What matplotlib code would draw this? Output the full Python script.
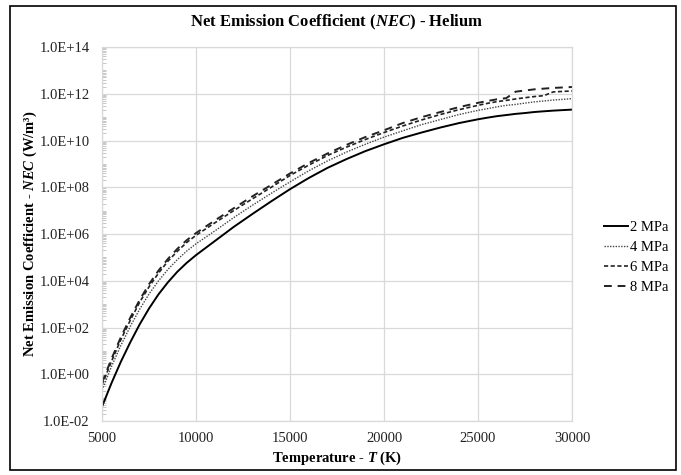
import matplotlib
matplotlib.use('Agg')
import matplotlib.pyplot as plt
from matplotlib.ticker import FuncFormatter, LogLocator, NullFormatter
from matplotlib.patches import Rectangle

plt.rcParams['font.family'] = 'Liberation Serif'
plt.rcParams['mathtext.fontset'] = 'custom'
plt.rcParams['mathtext.it'] = 'Liberation Serif:italic:bold'
plt.rcParams['mathtext.rm'] = 'Liberation Serif:bold'
plt.rcParams['mathtext.bf'] = 'Liberation Serif:bold'

# Temperature (K)
temperature = [5000, 5500, 6000, 6500, 7000, 7500, 8000, 8500, 9000, 9500, 10000,
               11000, 12000, 13000, 14000, 15000, 16000, 17000, 18000, 19000, 20000,
               21000, 22000, 23000, 24000, 25000, 25500, 26000, 26500, 27000, 27500,
               28000, 28500, 29000, 29500, 30000]

# Net emission coefficient (W/m3) for each pressure
nec_2mpa = [4.1e-2, 4.1e-1, 3.4e0, 2.3e1, 1.35e2, 6.5e2, 2.6e3, 8.5e3, 2.4e4, 5.8e4, 1.25e5,
            5.0e5, 2.0e6, 7.2e6, 2.5e7, 8.3e7, 2.5e8, 6.8e8, 1.6e9, 3.5e9, 6.9e9,
            1.3e10, 2.2e10, 3.6e10, 5.6e10, 8.1e10, 9.5e10, 1.1e11, 1.23e11, 1.38e11, 1.5e11,
            1.66e11, 1.78e11, 1.9e11, 2.0e11, 2.1e11]
nec_4mpa = [2.1e-1, 2.1e0, 1.7e1, 1.1e2, 6.0e2, 2.7e3, 9.8e3, 3.0e4, 7.9e4, 1.85e5, 3.8e5,
            1.35e6, 5.0e6, 1.7e7, 5.5e7, 1.7e8, 5.1e8, 1.35e9, 3.2e9, 6.9e9, 1.4e10,
            2.6e10, 4.8e10, 7.9e10, 1.3e11, 1.95e11, 2.3e11, 2.75e11, 3.2e11, 3.5e11, 4.0e11,
            4.5e11, 4.9e11, 5.4e11, 5.75e11, 6.2e11]
nec_6mpa = [3.5e-1, 3.5e0, 3.0e1, 2.0e2, 1.2e3, 5.5e3, 2.1e4, 6.8e4, 1.8e5, 4.3e5, 8.8e5,
            3.0e6, 1.0e7, 3.2e7, 1.0e8, 3.2e8, 8.9e8, 2.3e9, 5.2e9, 1.1e10, 2.2e10,
            4.2e10, 7.6e10, 1.3e11, 2.1e11, 3.2e11, 3.9e11, 4.6e11, 5.2e11, 6.0e11, 6.8e11,
            7.6e11, 8.3e11, 1.2e12, 1.26e12, 1.32e12]
nec_8mpa = [4.4e-1, 4.5e0, 3.8e1, 2.6e2, 1.5e3, 7.1e3, 2.7e4, 8.5e4, 2.3e5, 5.4e5, 1.1e6,
            3.8e6, 1.26e7, 4.1e7, 1.26e8, 3.9e8, 1.1e9, 2.8e9, 6.5e9, 1.4e10, 2.75e10,
            5.6e10, 1.0e11, 1.66e11, 2.7e11, 4.1e11, 4.9e11, 5.8e11, 6.5e11, 1.23e12, 1.38e12,
            1.55e12, 1.66e12, 1.78e12, 1.86e12, 1.95e12]

fig = plt.figure(figsize=(6.81, 4.75), dpi=100)
ax = fig.add_axes([0.1498, 0.1137, 0.6902, 0.7873])

ax.plot(temperature, nec_2mpa, color='black', lw=1.4, ls='-', label='2 MPa')
ax.plot(temperature, nec_4mpa, color='#444444', lw=1.0, ls=(0, (1, 1)), label='4 MPa')
ax.plot(temperature, nec_6mpa, color='#222222', lw=1.2, ls=(0, (2.5, 1.5)), label='6 MPa')
ax.plot(temperature, nec_8mpa, color='#222222', lw=1.4, ls=(0, (4, 3)), label='8 MPa')

ax.set_yscale('log')
ax.set_xlim(5000, 30000)
ax.set_ylim(1e-2, 1e14)
ax.set_xticks([5000, 10000, 15000, 20000, 25000, 30000])
ax.yaxis.set_major_locator(LogLocator(base=100.0, numticks=20))
ax.yaxis.set_minor_locator(LogLocator(base=10.0, subs=[2, 3, 4, 5, 6, 7, 8, 9, 10], numticks=40))
ax.yaxis.set_minor_formatter(NullFormatter())
ax.yaxis.set_major_formatter(FuncFormatter(lambda v, p: f'{v:.1E}'))

ax.grid(True, which='major', color='#d9d9d9', lw=0.9)
for s in ax.spines.values():
    s.set_color('#d9d9d9')
    s.set_linewidth(0.9)
ax.tick_params(axis='both', which='major', length=0, labelsize=10.5, colors='#222222')
ax.tick_params(axis='y', which='major', pad=9)
ax.tick_params(axis='x', which='major', pad=8)
ax.tick_params(axis='y', which='minor', direction='in', length=3, color='#bfbfbf', width=0.6)

ax.set_xlabel(r'Temperature - $T$ (K)', fontsize=10.5, fontweight='bold', labelpad=3)
ax.set_ylabel(r'Net Emission Coefficient - $NEC$ (W/m³)', fontsize=10.5, fontweight='bold', labelpad=0)
ax.set_title(r'Net Emission Coefficient $(NEC)$ - Helium', fontsize=12, fontweight='bold', pad=15)

ax.legend(loc='center left', bbox_to_anchor=(0.879, 0.458), bbox_transform=fig.transFigure,
          frameon=False, fontsize=10.5, handlelength=1.6, handletextpad=0.15, labelspacing=0.45,
          borderaxespad=0)

# Outer frame around the figure
fig.patches.append(Rectangle((0.0147, 0.0105), 0.9780, 0.9768, transform=fig.transFigure,
                             fill=False, edgecolor='black', lw=1.2))

fig.savefig('out.png', dpi=100)
